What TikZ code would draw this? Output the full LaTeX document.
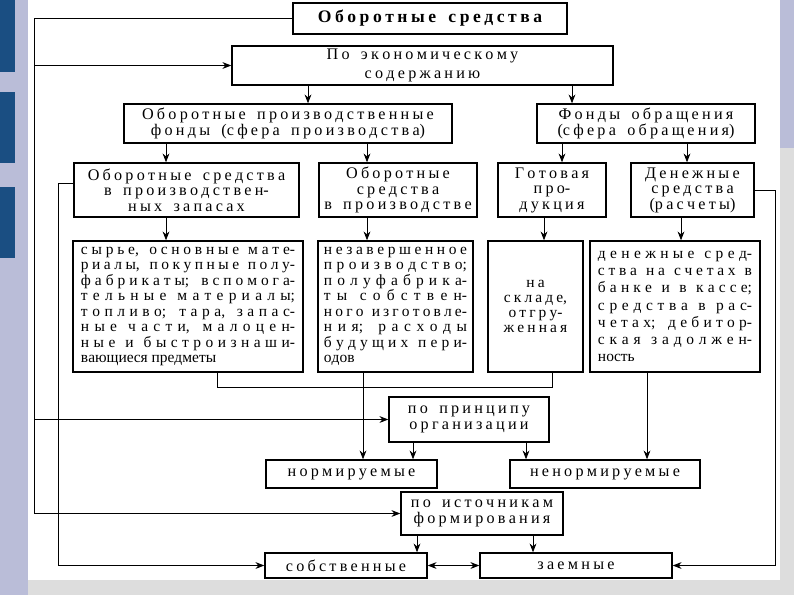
\documentclass[tikz,border=0pt]{standalone}
\usepackage{fontspec}
\setmainfont{Liberation Serif}
\usetikzlibrary{arrows.meta}

% space between letters: fixed part (in em) and a stretch for the justified lists
\newcommand\lettergap{0}
\XeTeXinterchartokenstate=1
\newXeTeXintercharclass\cyrclass
\count255="0400
\loop
    \XeTeXcharclass\count255=\cyrclass
    \advance\count255 by 1
\ifnum\count255<"0460 \repeat
\XeTeXinterchartoks\cyrclass\cyrclass={\nobreak\hskip\lettergap em plus 1pt\relax}

% spaced-out text of the headings
\newcommand\spaced{\def\lettergap{0.2}\spaceskip=0.7em\relax}

\definecolor{lav}{RGB}{186,189,216}
\definecolor{darkb}{RGB}{26,78,130}
\definecolor{grayp}{RGB}{221,221,221}

\tikzset{
    box/.style={draw, line width=1pt, inner sep=1pt, align=center, font=\fontsize{11.5}{11}\selectfont\spaced},
    listbox/.style={draw, line width=1pt, inner ysep=2pt, align=justify, font=\fontsize{11}{11}\selectfont},
    link/.style={line width=0.6pt},
    conn/.style={line width=0.6pt, -{Stealth[length=2.2mm, width=1.7mm]}},
}

\begin{document}
\begin{tikzpicture}[x=0.025cm, y=-0.025cm]
    % background
    \fill[white] (0, 0) rectangle (794, 595);
    \fill[lav] (0, 0) rectangle (28, 595);
    \fill[lav] (780, 0) rectangle (794, 148);
    \fill[grayp] (780, 148) rectangle (794, 595);
    \fill[grayp] (28, 580) rectangle (794, 595);
    \fill[darkb] (0, 0) rectangle (15, 72);
    \fill[darkb] (0, 92) rectangle (15, 163);
    \fill[darkb] (0, 187) rectangle (15, 258);

    % boxes
    \node[box, font=\bfseries\fontsize{12.5}{14}\selectfont\spaced, minimum width=6.85cm, minimum height=0.775cm] (top) at (430, 18.5) {Оборотные средства};
    \node[box, font=\fontsize{11.5}{13}\selectfont\spaced, minimum width=9.525cm, minimum height=0.975cm] (econ) at (422.5, 65.5) {По экономическому\\содержанию};
    \node[box, minimum width=8.2cm, minimum height=0.975cm] (prodfund) at (288, 123.5) {Оборотные производственные\\фонды (сфера производства)};
    \node[box, minimum width=5.45cm, minimum height=0.975cm] (circfund) at (646, 123.5) {Фонды обращения\\(сфера обращения)};
    \node[box, minimum width=5.625cm, minimum height=1.35cm] (stock) at (186.5, 190) {Оборотные средства\\в производствен-\\ных запасах};
    \node[box, minimum width=3.95cm, minimum height=1.35cm] (inprod) at (398, 190) {Оборотные\\средства\\в производстве};
    \node[box, minimum width=2.7cm, minimum height=1.35cm] (goods) at (552, 190) {Готовая\\про-\\дукция};
    \node[box, minimum width=3.075cm, minimum height=1.35cm] (money) at (692.5, 190) {Денежные\\средства\\(расчеты)};

    \node[listbox, text width=5.35cm, inner xsep=0.2cm, minimum height=3.275cm] (stocklist) at (188, 306.5) {сырье, основные мате-\linebreak риалы, покупные полу-\linebreak фабрикаты; вспомога-\linebreak тельные материалы;\linebreak топливо; тара, запас-\linebreak ные части, малоцен-\linebreak ные и быстроизнаши-\linebreak вающиеся предметы};
    \node[listbox, text width=3.575cm, inner xsep=0.15cm, minimum height=3.275cm] (inprodlist) at (395.5, 306.5) {незавершенное\linebreak производство;\linebreak полуфабрика-\linebreak ты собствен-\linebreak ного изготовле-\linebreak ния; расходы\linebreak будущих пери-\linebreak одов};
    \node[box, font=\fontsize{11}{10.5}\selectfont\spaced, minimum width=2.375cm, minimum height=3.275cm] (goodslist) at (535.5, 306.5) {на\\складе,\\отгру-\\женная};
    \node[listbox, text width=3.85cm, inner xsep=0.2cm, minimum height=3.275cm, font=\fontsize{11}{12.2}\selectfont] (moneylist) at (675, 306.5) {денежные сред-\linebreak ства на счетах в\linebreak банке и в кассе;\linebreak средства в рас-\linebreak четах; дебитор-\linebreak ская задолжен-\linebreak ность};

    \node[box, minimum width=4cm, minimum height=1.125cm] (principle) at (469, 419.5) {по принципу\\организации};
    \node[box, minimum width=4.275cm, minimum height=0.7cm] (norm) at (351.5, 474) {нормируемые};
    \node[box, minimum width=4.75cm, minimum height=0.7cm] (nonnorm) at (605, 474) {ненормируемые};
    \node[box, minimum width=4.05cm, minimum height=1.075cm] (sources) at (482, 513.5) {по источникам\\формирования};
    \node[box, minimum width=4.05cm, minimum height=0.625cm] (own) at (346, 565.5) {собственные};
    \node[box, minimum width=4.8cm, minimum height=0.625cm] (borrowed) at (576, 565.5) {заемные};

    % columns of the connectors
    \coordinate (outer) at (34, 0);
    \coordinate (inner) at (58, 0);
    \coordinate (right) at (775, 0);
    \coordinate (cM) at (308, 0);
    \coordinate (cN) at (572, 0);
    \coordinate (cA) at (166, 0);
    \coordinate (cB) at (367, 0);
    \coordinate (cC) at (562, 0);
    \coordinate (cD) at (687, 0);
    \coordinate (cC2) at (544, 0);
    \coordinate (cD2) at (681, 0);
    \coordinate (cE) at (217, 0);
    \coordinate (cF) at (552, 0);
    \coordinate (cG) at (363, 0);
    \coordinate (cH) at (647, 0);
    \coordinate (cI) at (413, 0);
    \coordinate (cJ) at (526, 0);
    \coordinate (cK) at (417, 0);
    \coordinate (cL) at (533, 0);

    % connectors
    \draw[conn] (econ.south -| cM) to (prodfund.north -| cM);
    \draw[conn] (econ.south -| cN) to (circfund.north -| cN);
    \draw[conn] (prodfund.south -| cA) to (stock.north -| cA);
    \draw[conn] (prodfund.south -| cB) to (inprod.north -| cB);
    \draw[conn] (circfund.south -| cC) to (goods.north -| cC);
    \draw[conn] (circfund.south -| cD) to (money.north -| cD);
    \draw[conn] (stock.south -| cA) to (stocklist.north -| cA);
    \draw[conn] (inprod.south -| cB) to (inprodlist.north -| cB);
    \draw[conn] (goods.south -| cC2) to (goodslist.north -| cC2);
    \draw[conn] (money.south -| cD2) to (moneylist.north -| cD2);

    \draw[link] (stocklist.south -| cE) to ++(0, 15) -| (goodslist.south -| cF);
    \draw[conn] (inprodlist.south -| cG) to (norm.north -| cG);
    \draw[conn] (moneylist.south -| cH) to (nonnorm.north -| cH);
    \draw[conn] (principle.south -| cI) to (norm.north -| cI);
    \draw[conn] (principle.south -| cJ) to (nonnorm.north -| cJ);
    \draw[conn] (sources.south -| cK) to (own.north -| cK);
    \draw[conn] (sources.south -| cL) to (borrowed.north -| cL);
    \draw[link, {Stealth[length=2.2mm, width=1.7mm]}-{Stealth[length=2.2mm, width=1.7mm]}] (own.east) to (borrowed.west);

    \draw[conn] (top.west) -| (sources.west -| outer) to (sources.west);
    \draw[conn] (econ.west -| outer) to (econ.west);
    \draw[conn] (principle.west -| outer) to (principle.west);
    \draw[conn] ([yshift=0.175cm]stock.west) -| (own.west -| inner) to (own.west);
    \draw[conn] (money.east) -| (borrowed.east -| right) to (borrowed.east);
\end{tikzpicture}
\end{document}
